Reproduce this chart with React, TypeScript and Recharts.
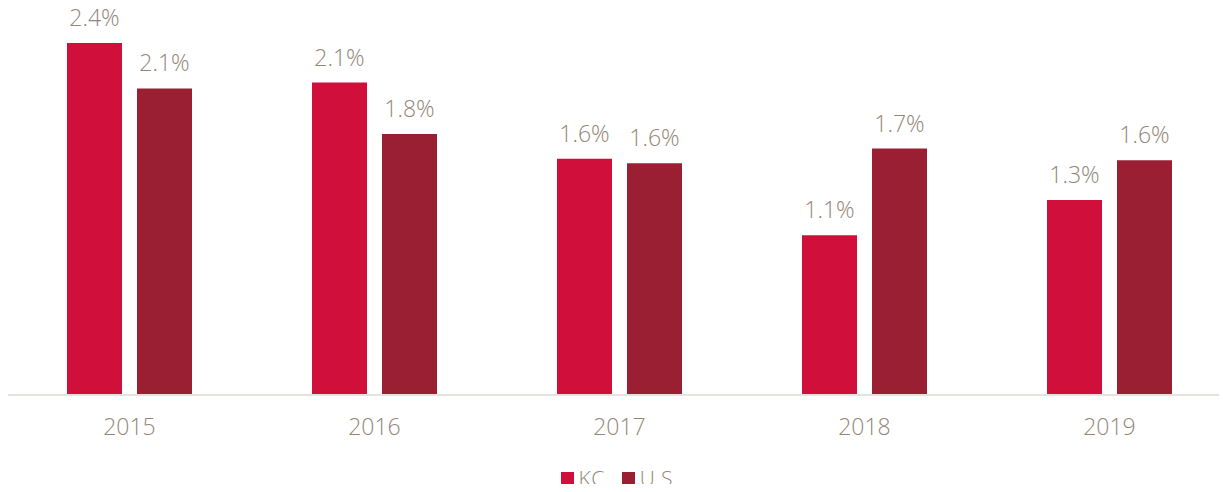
import React from 'react';
import { BarChart, Bar, XAxis, YAxis, Legend, LabelList } from 'recharts';

const years = ['2015', '2016', '2017', '2018', '2019'];
const kcValues = [2.4, 2.13, 1.61, 1.09, 1.33];
const usValues = [2.09, 1.78, 1.58, 1.68, 1.6];
const seriesNames = ['KC', 'U.S.'];
const seriesColors = ['#d0103a', '#9a1f33'];

const data = years.map((y, i) => ({ year: y, kc: kcValues[i], us: usValues[i] }));

const FONT = '"Open Sans", Lato, sans-serif';
const TEXT = '#928679';

const fmt = (v: any) => `${Number(v).toFixed(1)}%`;

const LegendContent = () => (
  <div
    style={{
      height: 26,
      display: 'flex',
      justifyContent: 'center',
      alignItems: 'center',
      fontFamily: FONT,
      fontWeight: 300,
      color: TEXT,
      paddingLeft: 12,
    }}
  >
    {seriesNames.map((n, i) => (
      <div key={n} style={{ display: 'flex', alignItems: 'center', marginRight: i === 0 ? 17 : 0 }}>
        <div style={{ width: 13, height: 13, background: seriesColors[i], marginRight: 5 }} />
        <span style={{ fontSize: 21, lineHeight: '26px', letterSpacing: 0.5 }}>{n}</span>
      </div>
    ))}
  </div>
);

export default function App() {
  return (
    <div style={{ margin: -8, width: 1227, height: 492, overflow: 'hidden' }}>
      <BarChart
        width={1232}
        height={492}
        data={data}
        margin={{ top: 43, right: 0, bottom: 0, left: 7 }}
        barSize={55}
        barGap={15}
      >
        <XAxis
          dataKey="year"
          height={71}
          tickLine={false}
          tickSize={0}
          tickMargin={24}
          axisLine={{ stroke: '#e6e3df', strokeWidth: 2 }}
          tick={{ fill: TEXT, fontSize: 23, fontFamily: FONT, fontWeight: 300 }}
        />
        <YAxis hide domain={[0, 2.4]} />
        <Legend
          verticalAlign="bottom"
          content={<LegendContent />}
          wrapperStyle={{ top: 465, bottom: 'auto', height: 26, left: 0, width: 1227 }}
        />
        <Bar dataKey="kc" name={seriesNames[0]} fill={seriesColors[0]} isAnimationActive={false}>
          <LabelList
            dataKey="kc"
            position="top"
            offset={17}
            formatter={fmt}
            style={{ fill: TEXT, fontSize: 23, fontFamily: FONT, fontWeight: 300 }}
          />
        </Bar>
        <Bar dataKey="us" name={seriesNames[1]} fill={seriesColors[1]} isAnimationActive={false}>
          <LabelList
            dataKey="us"
            position="top"
            offset={17}
            formatter={fmt}
            style={{ fill: TEXT, fontSize: 23, fontFamily: FONT, fontWeight: 300 }}
          />
        </Bar>
      </BarChart>
    </div>
  );
}
